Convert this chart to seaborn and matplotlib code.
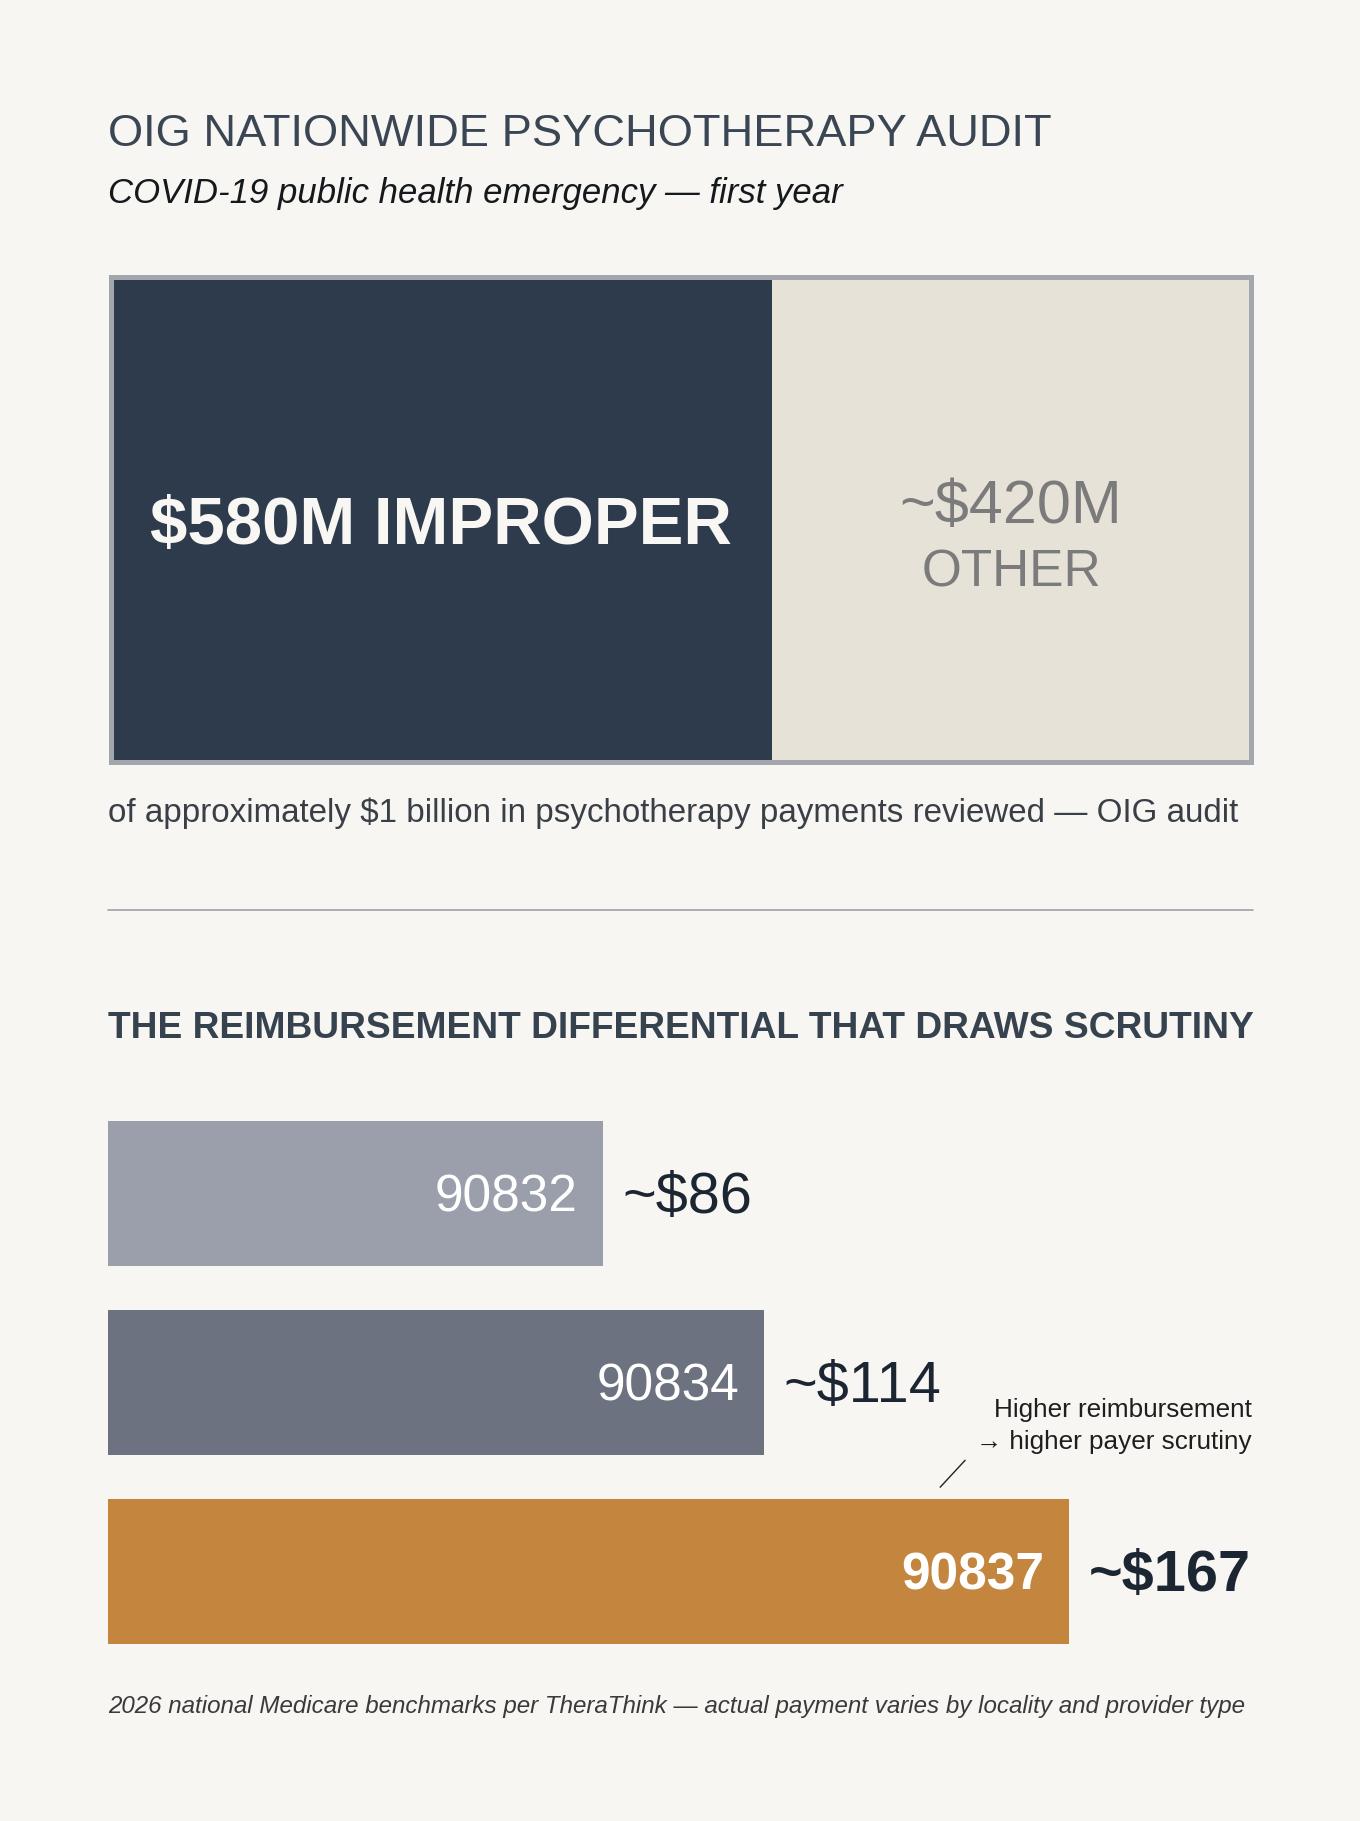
import numpy as np
import pandas as pd
import seaborn as sns
import matplotlib.pyplot as plt
from matplotlib.lines import Line2D

# data
audit_labels = ["$580M IMPROPER", "~$420M\nOTHER"]
audit_values = [580, 420]
codes = ["90832", "90834", "90837"]
payments = [86, 114, 167]
payment_labels = ["~$86", "~$114", "~$167"]

BG = "#f7f6f2"
DARK = "#2e3b4c"
LIGHT = "#e6e2d8"
BAR_COLORS = ["#9a9fab", "#6d7280", "#c4853e"]

W, H = 1360, 1821

sns.set_theme(style="white")
plt.rcParams["font.family"] = ["Liberation Sans", "DejaVu Sans"]


def fx(px):
    return px / W


def fy(py):
    return 1 - py / H


fig = plt.figure(figsize=(W / 100, H / 100), dpi=100, facecolor=BG)

# header
fig.text(fx(108), fy(135), "OIG NATIONWIDE PSYCHOTHERAPY AUDIT", fontsize=32.6,
         color="#3b4654", va="center", ha="left")
fig.text(fx(108), fy(193), "COVID-19 public health emergency \u2014 first year", fontsize=25,
         style="italic", color="#15181c", va="center", ha="left")

# top stacked bar
ax1 = fig.add_axes([fx(110.5), fy(762), (1250.5 - 110.5) / W, (762 - 277) / H])
total = sum(audit_values)
sns.barplot(x=[total], y=["audit"], color=LIGHT, width=1, linewidth=0, saturation=1, ax=ax1)
sns.barplot(x=[audit_values[0]], y=["audit"], color=DARK, width=1, linewidth=0, saturation=1, ax=ax1)
ax1.set_xlim(0, total)
ax1.set_ylim(0.5, -0.5)
ax1.set_facecolor("none")
ax1.set_xticks([])
ax1.set_yticks([])
ax1.set_xlabel("")
ax1.set_ylabel("")
for s in ax1.spines.values():
    s.set_visible(True)
    s.set_color("#a3a7ad")
    s.set_linewidth(3.6)
    s.set_zorder(5)

ax1.text(audit_values[0] / 2, 0.485, audit_labels[0], transform=ax1.get_xaxis_transform(),
         fontsize=48.3, fontweight="bold", color="#f8f7f3", ha="center", va="center")
other_x = audit_values[0] + audit_values[1] / 2
top_line, bottom_line = audit_labels[1].split("\n")
ax1.text(other_x, 0.525, top_line, transform=ax1.get_xaxis_transform(),
         fontsize=44, color="#7b7b7b", ha="center", va="center")
ax1.text(other_x, 0.39, bottom_line, transform=ax1.get_xaxis_transform(),
         fontsize=37, color="#7b7b7b", ha="center", va="center")

fig.text(fx(108), fy(813),
         "of approximately $1 billion in psychotherapy payments reviewed \u2014 OIG audit",
         fontsize=23.9, color="#3a3f47", va="center", ha="left")

fig.add_artist(Line2D([fx(108), fx(1253)], [fy(910), fy(910)], color="#9ea2a8", lw=1.2))

fig.text(fx(108), fy(1029), "THE REIMBURSEMENT DIFFERENTIAL THAT DRAWS SCRUTINY",
         fontsize=26.7, fontweight="bold", color="#37424f", va="center", ha="left")

# reimbursement bars
ax2 = fig.add_axes([fx(108), fy(1666.5), 1145 / W, 567.5 / H])
df = pd.DataFrame({"code": codes, "payment": payments})
sns.barplot(data=df, x="payment", y="code", hue="code", palette=BAR_COLORS, legend=False,
            width=0.767, linewidth=0, saturation=1, ax=ax2)
ax2.set_xlim(0, 199)
ax2.set_ylim(2.5, -0.5)
ax2.set_facecolor("none")
ax2.set_xticks([])
ax2.set_yticks([])
ax2.set_xlabel("")
ax2.set_ylabel("")
sns.despine(ax=ax2, left=True, bottom=True)

for i, (code, val, lab) in enumerate(zip(codes, payments, payment_labels)):
    last = i == len(codes) - 1
    weight = "bold" if last else "normal"
    ax2.annotate(code, xy=(val, i), xytext=(-18, -3), textcoords="offset points",
                 ha="right", va="center", fontsize=37, color="white", fontweight=weight)
    ax2.annotate(lab, xy=(val, i), xytext=(14, -3), textcoords="offset points",
                 ha="left", va="center", fontsize=41.5, color="#1c2633", fontweight=weight)

ax2.annotate("", xy=(144.3, 1.563), xytext=(149.3, 1.399),
             arrowprops=dict(arrowstyle="-", color="#222222", lw=1))
fig.text(fx(1252), fy(1410), "Higher reimbursement", fontsize=18.8, color="#1e1e1e",
         ha="right", va="center")
fig.text(fx(1252), fy(1442), "\u2192 higher payer scrutiny", fontsize=18.8, color="#1e1e1e",
         ha="right", va="center")

fig.text(fx(108), fy(1707),
         "2026 national Medicare benchmarks per TheraThink \u2014 actual payment varies by locality and provider type",
         fontsize=17.4, style="italic", color="#3a3a3a", va="center", ha="left")

fig.savefig("out.png", dpi=100, facecolor=BG)
